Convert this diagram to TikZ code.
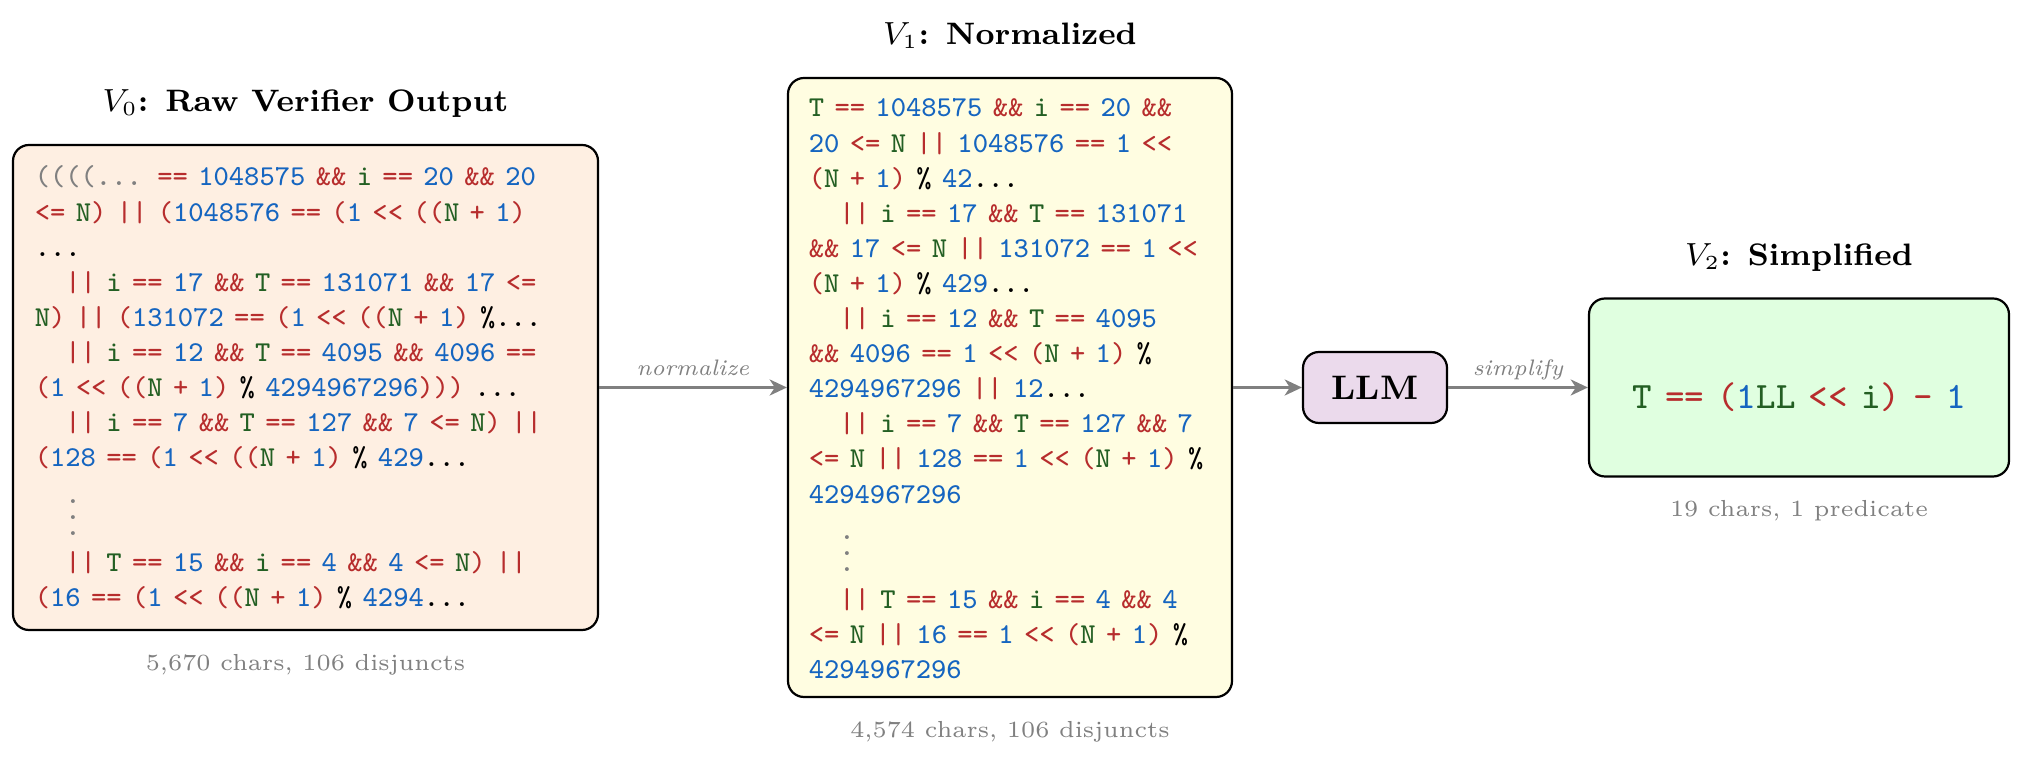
\documentclass[tikz,border=0pt]{standalone}
\usetikzlibrary{arrows.meta}
\definecolor{cred}{RGB}{183,45,45}
\definecolor{cblue}{RGB}{21,101,192}
\definecolor{cgreen}{RGB}{35,95,35}
\definecolor{cgray}{RGB}{128,128,128}
\definecolor{fillA}{RGB}{254,239,226}
\definecolor{fillB}{RGB}{255,253,225}
\definecolor{fillC}{RGB}{224,255,224}
\definecolor{fillL}{RGB}{235,218,236}
\newcommand\tR[1]{\textcolor{cred}{#1}}
\newcommand\tB[1]{\textcolor{cblue}{#1}}
\newcommand\tG[1]{\textcolor{cgreen}{#1}}
\newcommand\tK[1]{\textcolor{black}{#1}}
\newcommand\tY[1]{\textcolor{cgray}{#1}}
\newcommand\ind{\hspace*{7.65pt}}
\newcommand\cl[1]{\hbox{#1}}
\newcommand\dotsline{\vskip8.4pt\hbox{\ind\tY{\vdots}}\vskip0.3pt}
\newcommand\codefont{\fontsize{7.2}{8.775}\selectfont\ttfamily\spaceskip=2.6pt\relax}
\newcommand\formfont{\fontsize{9.3}{11}\selectfont\ttfamily\spaceskip=3.3pt\relax}
\newcommand\blockset{\baselineskip=8.775pt\lineskiplimit=-\maxdimen}
\begin{document}
\begin{tikzpicture}[x=0.25pt,y=-0.25pt,
  box/.style={draw=black, line width=0.55pt, rounded corners=4pt, inner sep=0pt},
  code/.style={anchor=base west, inner sep=0pt, font=\codefont},
  ttl/.style={anchor=base, inner sep=0pt, font=\fontsize{7.75}{10}\selectfont\bfseries},
  capt/.style={anchor=base, inner sep=0pt, text=cgray, font=\fontsize{5.8}{7}\selectfont},
  arr/.style={draw=cgray, line width=0.8pt, -{Stealth[length=4.3pt,width=4pt,inset=1.3pt]}},
  lbl/.style={midway, anchor=base, inner sep=0pt, yshift=3pt, text=cgray, font=\fontsize{5.6}{7}\selectfont\itshape}]
\useasboundingbox (0,0) rectangle (2023,768);

% boxes
\node[box, fill=fillA, minimum width=146.25pt, minimum height=121.25pt] (v0) at (305.5,387.5) {};
\node[box, fill=fillB, minimum width=111pt, minimum height=154.75pt] (v1) at (1010,387.5) {};
\node[box, fill=fillL, minimum width=36pt, minimum height=17.75pt, font=\fontsize{8.5}{10}\selectfont\bfseries] (llm) at (1375,387.5) {LLM};
\node[box, fill=fillC, minimum width=105pt, minimum height=44.5pt] (v2) at (1799,387.5) {};

% titles
\node[ttl] (h0) at ([yshift=8pt]v0.north) {$V_0$: Raw Verifier Output};
\node[ttl] (h1) at ([yshift=8pt]v1.north) {$V_1$: Normalized};
\node[ttl] (h2) at ([yshift=8pt]v2.north) {$V_2$: Simplified};

% captions
\node[capt] (c0) at ([yshift=-9.75pt]v0.south) {5,670 chars, 106 disjuncts};
\node[capt] (c1) at ([yshift=-9.75pt]v1.south) {4,574 chars, 106 disjuncts};
\node[capt] (c2) at ([yshift=-9.75pt]v2.south) {19 chars, 1 predicate};

% V0 code
\node[code] (t0) at (34,186) {\vtop{\blockset
\cl{\tY{((((...} \tR{==} \tB{1048575} \tR{\&\&} \tG{i} \tR{==} \tB{20} \tR{\&\&} \tB{20}}
\cl{\tR{<=} \tG{N}\tR{)} \tR{||} \tR{(}\tB{1048576} \tR{==} \tR{(}\tB{1} \tR{<<} \tR{((}\tG{N} \tR{+} \tB{1}\tR{)}}
\cl{\tK{...}}
\cl{\ind\tR{||} \tG{i} \tR{==} \tB{17} \tR{\&\&} \tG{T} \tR{==} \tB{131071} \tR{\&\&} \tB{17} \tR{<=}}
\cl{\tG{N}\tR{)} \tR{||} \tR{(}\tB{131072} \tR{==} \tR{(}\tB{1} \tR{<<} \tR{((}\tG{N} \tR{+} \tB{1}\tR{)} \tK{\%...}}
\cl{\ind\tR{||} \tG{i} \tR{==} \tB{12} \tR{\&\&} \tG{T} \tR{==} \tB{4095} \tR{\&\&} \tB{4096} \tR{==}}
\cl{\tR{(}\tB{1} \tR{<<} \tR{((}\tG{N} \tR{+} \tB{1}\tR{)} \tK{\%} \tB{4294967296}\tR{)))} \tK{...}}
\cl{\ind\tR{||} \tG{i} \tR{==} \tB{7} \tR{\&\&} \tG{T} \tR{==} \tB{127} \tR{\&\&} \tB{7} \tR{<=} \tG{N}\tR{)} \tR{||}}
\cl{\tR{(}\tB{128} \tR{==} \tR{(}\tB{1} \tR{<<} \tR{((}\tG{N} \tR{+} \tB{1}\tR{)} \tK{\%} \tB{429}\tK{...}}
\dotsline
\cl{\ind\tR{||} \tG{T} \tR{==} \tB{15} \tR{\&\&} \tG{i} \tR{==} \tB{4} \tR{\&\&} \tB{4} \tR{<=} \tG{N}\tR{)} \tR{||}}
\cl{\tR{(}\tB{16} \tR{==} \tR{(}\tB{1} \tR{<<} \tR{((}\tG{N} \tR{+} \tB{1}\tR{)} \tK{\%} \tB{4294}\tK{...}}
}};

% V1 code
\node[code] (t1) at (808,117) {\vtop{\blockset
\cl{\tG{T} \tR{==} \tB{1048575} \tR{\&\&} \tG{i} \tR{==} \tB{20} \tR{\&\&}}
\cl{\tB{20} \tR{<=} \tG{N} \tR{||} \tB{1048576} \tR{==} \tB{1} \tR{<<}}
\cl{\tR{(}\tG{N} \tR{+} \tB{1}\tR{)} \tK{\%} \tB{42}\tK{...}}
\cl{\ind\tR{||} \tG{i} \tR{==} \tB{17} \tR{\&\&} \tG{T} \tR{==} \tB{131071}}
\cl{\tR{\&\&} \tB{17} \tR{<=} \tG{N} \tR{||} \tB{131072} \tR{==} \tB{1} \tR{<<}}
\cl{\tR{(}\tG{N} \tR{+} \tB{1}\tR{)} \tK{\%} \tB{429}\tK{...}}
\cl{\ind\tR{||} \tG{i} \tR{==} \tB{12} \tR{\&\&} \tG{T} \tR{==} \tB{4095}}
\cl{\tR{\&\&} \tB{4096} \tR{==} \tB{1} \tR{<<} \tR{(}\tG{N} \tR{+} \tB{1}\tR{)} \tK{\%}}
\cl{\tB{4294967296} \tR{||} \tB{12}\tK{...}}
\cl{\ind\tR{||} \tG{i} \tR{==} \tB{7} \tR{\&\&} \tG{T} \tR{==} \tB{127} \tR{\&\&} \tB{7}}
\cl{\tR{<=} \tG{N} \tR{||} \tB{128} \tR{==} \tB{1} \tR{<<} \tR{(}\tG{N} \tR{+} \tB{1}\tR{)} \tK{\%}}
\cl{\tB{4294967296}}
\dotsline
\cl{\ind\tR{||} \tG{T} \tR{==} \tB{15} \tR{\&\&} \tG{i} \tR{==} \tB{4} \tR{\&\&} \tB{4}}
\cl{\tR{<=} \tG{N} \tR{||} \tB{16} \tR{==} \tB{1} \tR{<<} \tR{(}\tG{N} \tR{+} \tB{1}\tR{)} \tK{\%}}
\cl{\tB{4294967296}}
}};

% V2 formula
\node[anchor=base, inner sep=0pt, font=\formfont] (f2) at ([yshift=-5.3pt]v2.center)
  {\tG{T} \tR{==} \tR{(}\tB{1}\tG{LL} \tR{<<} \tG{i}\tR{)} \tR{-} \tB{1}};

% connectors
\draw[arr] (v0.east) -- node[lbl] (l1) {normalize} (v1.west);
\draw[arr] (v1.east) -- (llm.west);
\draw[arr] (llm.east) -- node[lbl] (l2) {simplify} (v2.west);
\end{tikzpicture}
\end{document}
